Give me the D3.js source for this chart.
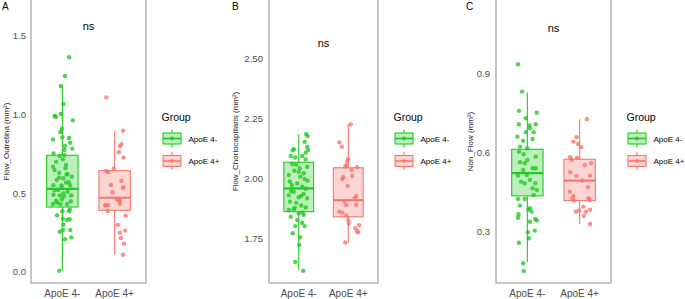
<!DOCTYPE html>
<html>
<head>
<meta charset="utf-8">
<script src="https://cdn.jsdelivr.net/npm/d3@7"></script>
<style>
  body { margin: 0; background: #fff; }
  svg { display: block; font-family: "Liberation Sans", Arial, sans-serif; }
</style>
</head>
<body>
<div id="chart"></div>
<script>
// categories + labels
const groups = ["ApoE 4-", "ApoE 4+"];
const panelLetters = ["A", "B", "C"];
const yTitles = ["Flow_Outretina (mm²)", "Flow_Choriocapillaris (mm²)", "Non_Flow (mm²)"];
const nsLabel = "ns";
const nsValues = [1.54, 2.55, 1.06];

// y ticks per panel
const ticksA = [0.0, 0.5, 1.0, 1.5];
const tickLabelsA = ["0.0", "0.5", "1.0", "1.5"];
const ticksB = [1.75, 2.00, 2.25, 2.50];
const tickLabelsB = ["1.75", "2.00", "2.25", "2.50"];
const ticksC = [0.3, 0.6, 0.9];
const tickLabelsC = ["0.3", "0.6", "0.9"];

// box stats: [lower whisker, q1, median, q3, upper whisker], one per group
const boxA = [[0.008, 0.413, 0.528, 0.742, 1.182], [0.112, 0.392, 0.472, 0.644, 0.898]];
const boxB = [[1.622, 1.864, 1.961, 2.070, 2.187], [1.736, 1.843, 1.912, 2.047, 2.228]];
const boxC = [[0.185, 0.437, 0.523, 0.614, 0.830], [0.330, 0.419, 0.495, 0.576, 0.728]];

// jittered points: [jitter (category units), value]
const ptsANeg = [[0.13,1.365],[0.05,1.246],[-0.03,1.182],[0.02,1.068],[-0.15,0.992],[-0.12,0.987],[-0.03,1.004],[0.2,0.964],
  [-0.04,0.890],[-0.01,0.911],[0,0.856],[-0.18,0.843],[0.13,0.852],[0.15,0.822],[0.05,0.801],[0.04,0.776],[0.19,0.784],
  [-0.17,0.754],[-0.05,0.737],[0.04,0.742],[0.01,0.716],[-0.18,0.670],[-0.15,0.648],[0.07,0.680],[-0.06,0.631],[0.1,0.623],
  [0.18,0.606],[0.02,0.596],[-0.11,0.585],[0.07,0.568],[-0.17,0.551],[-0.01,0.542],[0.15,0.551],[-0.08,0.521],[0.02,0.500],
  [0.1,0.511],[-0.17,0.491],[-0.05,0.487],[0.17,0.487],[-0.12,0.453],[-0.01,0.462],[0.09,0.432],[-0.18,0.432],[-0.04,0.432],
  [0.14,0.398],[0,0.386],[-0.1,0.360],[0.13,0.386],[0.01,0.339],[0.09,0.331],[0.14,0.335],[0.02,0.301],[-0.05,0.256],
  [0.01,0.267],[0.15,0.267],[0.17,0.220],[0.05,0.208],[-0.06,0.008],
  [-0.12,0.70],[0.06,0.66],[-0.06,0.60],[0.12,0.57],[-0.15,0.52],[0.03,0.48],[0.16,0.45],[-0.1,0.44],[0.08,0.62],[-0.02,0.55]];
const ptsAPos = [[-0.16,1.110],[0.16,0.898],[0.13,0.812],[0.1,0.801],[0.08,0.761],[0.17,0.727],[-0.16,0.642],[-0.13,0.634],
  [-0.02,0.657],[0.13,0.579],[-0.07,0.553],[0.16,0.536],[0.17,0.538],[-0.04,0.507],[0.04,0.464],[0.08,0.453],[0.1,0.458],
  [0.1,0.434],[-0.17,0.426],[-0.12,0.426],[-0.18,0.422],[-0.13,0.388],[0.21,0.358],[0.06,0.299],[0.2,0.263],[0.1,0.250],
  [0.12,0.216],[0.18,0.180],[0.16,0.110]];

const ptsBNeg = [[0.15,2.188],[0.18,2.179],[0.12,2.155],[-0.1,2.124],[0.17,2.135],[0.19,2.121],[0.14,2.110],[-0.16,2.096],
  [-0.07,2.090],[0.07,2.096],[0.14,2.082],[-0.13,2.063],[0.02,2.045],[0.17,2.051],[-0.09,2.035],[0.1,2.024],[-0.2,2.017],
  [0.03,2.010],[0.18,1.993],[-0.03,1.982],[-0.14,1.975],[0.07,1.968],[-0.1,1.947],[0.1,1.938],[-0.2,1.933],[0,1.924],
  [0.17,1.920],[-0.18,1.906],[-0.05,1.901],[0.05,1.890],[0.14,1.882],[-0.1,1.874],[-0.2,1.871],[0,1.857],[0.1,1.851],
  [-0.16,1.843],[-0.03,1.829],[0.07,1.818],[-0.07,1.804],[0.12,1.804],[-0.12,1.774],[0.03,1.757],[0.01,1.725],
  [-0.07,1.655],[0.09,1.618],
  [-0.05,2.06],[0.12,2.0],[-0.15,1.95],[0.05,1.93],[-0.08,1.88],[0.14,1.96],[0,2.03],[-0.12,2.12],[0.08,1.86],[-0.18,1.99]];
const ptsBPos = [[0.05,2.228],[-0.18,2.153],[-0.13,2.135],[0,2.083],[-0.02,2.072],[-0.04,2.058],[-0.06,2.051],[0.18,2.049],
  [0.07,2.038],[-0.1,2.008],[0.08,2.013],[-0.12,2.000],[-0.01,1.971],[0.16,1.929],[0.13,1.920],[-0.08,1.908],[-0.04,1.892],
  [0.16,1.892],[-0.18,1.864],[-0.12,1.860],[-0.04,1.847],[0,1.829],[0.01,1.815],[0.22,1.808],[0.14,1.795],[0.18,1.783],
  [0.2,1.778],[-0.06,1.736]];

const ptsCNeg = [[-0.18,0.937],[-0.1,0.833],[-0.16,0.760],[0.18,0.753],[-0.03,0.732],[-0.16,0.709],[0.04,0.704],[0.16,0.709],
  [0.05,0.694],[-0.03,0.679],[-0.19,0.662],[0.12,0.679],[-0.08,0.646],[0.1,0.653],[-0.14,0.624],[0,0.618],[-0.16,0.605],
  [-0.07,0.595],[0.16,0.586],[0,0.573],[-0.14,0.565],[-0.05,0.561],[0.16,0.542],[-0.08,0.535],[0.1,0.542],[-0.18,0.514],
  [-0.01,0.516],[0.05,0.497],[-0.12,0.491],[-0.05,0.485],[0.15,0.485],[0.1,0.466],[0.18,0.459],[0.12,0.440],[-0.18,0.425],
  [-0.05,0.425],[0.05,0.390],[-0.14,0.400],[0.02,0.384],[0.08,0.377],[-0.17,0.367],[-0.18,0.354],[0.05,0.339],[0.15,0.349],
  [0.18,0.344],[0.01,0.299],[0.14,0.305],[0.03,0.276],[-0.16,0.259],[-0.08,0.181],[-0.07,0.152]];
const ptsCPos = [[0.14,0.728],[-0.06,0.660],[-0.12,0.643],[-0.03,0.634],[0.03,0.622],[-0.18,0.584],[-0.15,0.573],[-0.05,0.582],
  [0.22,0.561],[0.1,0.554],[-0.18,0.527],[-0.06,0.513],[0.2,0.514],[0.05,0.495],[0.16,0.470],[-0.19,0.453],[-0.12,0.437],
  [-0.14,0.428],[0.17,0.428],[-0.11,0.419],[0.19,0.421],[0.07,0.396],[-0.07,0.377],[-0.01,0.381],[0.2,0.384],[0.12,0.377],
  [0.08,0.361],[0.2,0.330]];

const colors = ["#22c922", "#f8766d"];

const W = 685, H = 299, plotBottom = 283;

const panels = [
  {letter: panelLetters[0], title: yTitles[0], ticks: ticksA, tickLabels: tickLabelsA, domain: [-0.07, 1.729],
   boxes: boxA, points: [ptsANeg, ptsAPos], ns: nsValues[0], left: 31, right: 146, letterX: 2, titleX: 9, tickX: 26},
  {letter: panelLetters[1], title: yTitles[1], ticks: ticksB, tickLabels: tickLabelsB, domain: [1.567, 2.746],
   boxes: boxB, points: [ptsBNeg, ptsBPos], ns: nsValues[1], left: 269, right: 378, letterX: 232, titleX: 238, tickX: 263},
  {letter: panelLetters[2], title: yTitles[2], ticks: ticksC, tickLabels: tickLabelsC, domain: [0.106, 1.181],
   boxes: boxC, points: [ptsCNeg, ptsCPos], ns: nsValues[2], left: 496, right: 611, letterX: 466, titleX: 473, tickX: 490}
];

const svg = d3.select("#chart").append("svg")
  .attr("width", W)
  .attr("height", H);

panels.forEach(p => {
  const g = svg.append("g");

  const y = d3.scaleLinear().domain(p.domain).range([plotBottom, 0]);
  const x = d3.scalePoint().domain(groups).range([p.left, p.right]).padding(0.6);
  const bw = x.step() * 0.6;

  // panel letter
  g.append("text")
    .attr("x", p.letterX).attr("y", 10)
    .attr("font-size", 10).attr("fill", "#000")
    .text(p.letter);

  // y title
  g.append("text")
    .attr("transform", `translate(${p.titleX},${plotBottom / 2}) rotate(-90)`)
    .attr("text-anchor", "middle")
    .attr("font-size", 8).attr("fill", "#1a1a1a")
    .text(p.title);

  // y tick labels
  g.selectAll(".ytick")
    .data(p.ticks)
    .join("text")
      .attr("x", p.tickX)
      .attr("y", d => y(d))
      .attr("dy", "0.35em")
      .attr("text-anchor", "end")
      .attr("font-size", 9.6).attr("fill", "#4d4d4d")
      .text((d, i) => p.tickLabels[i]);

  // x labels
  g.selectAll(".xlab")
    .data(groups)
    .join("text")
      .attr("x", d => x(d))
      .attr("y", 297)
      .attr("text-anchor", "middle")
      .attr("font-size", 10).attr("fill", "#4d4d4d")
      .text(d => d);

  // boxes
  groups.forEach((grp, i) => {
    const s = p.boxes[i], cx = x(grp), c = colors[i];
    g.append("line")
      .attr("x1", cx).attr("x2", cx).attr("y1", y(s[4])).attr("y2", y(s[3]))
      .attr("stroke", c).attr("stroke-width", 1.1);
    g.append("line")
      .attr("x1", cx).attr("x2", cx).attr("y1", y(s[1])).attr("y2", y(s[0]))
      .attr("stroke", c).attr("stroke-width", 1.1);
    g.append("rect")
      .attr("x", cx - bw / 2).attr("width", bw)
      .attr("y", y(s[3])).attr("height", y(s[1]) - y(s[3]))
      .attr("fill", c).attr("fill-opacity", 0.3)
      .attr("stroke", c).attr("stroke-width", 1.1);
    g.append("line")
      .attr("x1", cx - bw / 2).attr("x2", cx + bw / 2)
      .attr("y1", y(s[2])).attr("y2", y(s[2]))
      .attr("stroke", c).attr("stroke-width", 2.2);
  });

  // jittered points
  groups.forEach((grp, i) => {
    g.append("g")
      .selectAll("circle")
      .data(p.points[i])
      .join("circle")
        .attr("cx", d => x(grp) + d[0] * x.step())
        .attr("cy", d => y(d[1]))
        .attr("r", 2.2)
        .attr("fill", colors[i])
        .attr("fill-opacity", 0.8);
  });

  // panel frame
  g.append("rect")
    .attr("x", p.left).attr("y", -2)
    .attr("width", p.right - p.left).attr("height", plotBottom + 2)
    .attr("fill", "none")
    .attr("stroke", "#8c8c8c").attr("stroke-width", 1);

  // ns annotation
  g.append("text")
    .attr("x", (x(groups[0]) + x(groups[1])) / 2)
    .attr("y", y(p.ns))
    .attr("text-anchor", "middle")
    .attr("font-size", 11).attr("fill", "#000")
    .text(nsLabel);

  // legend
  const lx = p.right + 15.5;
  g.append("text")
    .attr("x", lx).attr("y", 121)
    .attr("font-size", 10.5).attr("fill", "#000")
    .text("Group");

  groups.forEach((grp, i) => {
    const cy = 138.5 + i * 22.5, c = colors[i], kx = lx + 10.5;
    g.append("line")
      .attr("x1", kx).attr("x2", kx).attr("y1", cy - 9).attr("y2", cy + 9)
      .attr("stroke", c).attr("stroke-width", 1.1);
    g.append("rect")
      .attr("x", lx + 1.5).attr("y", cy - 5.5)
      .attr("width", 18).attr("height", 11)
      .attr("fill", "#fff");
    g.append("rect")
      .attr("x", lx + 1.5).attr("y", cy - 5.5)
      .attr("width", 18).attr("height", 11)
      .attr("fill", c).attr("fill-opacity", 0.3)
      .attr("stroke", c).attr("stroke-width", 1.1);
    g.append("line")
      .attr("x1", lx + 1.5).attr("x2", lx + 19.5).attr("y1", cy).attr("y2", cy)
      .attr("stroke", c).attr("stroke-width", 1.6);
    g.append("circle")
      .attr("cx", kx).attr("cy", cy).attr("r", 2)
      .attr("fill", c).attr("fill-opacity", 0.8);
    g.append("text")
      .attr("x", lx + 27).attr("y", cy + 3)
      .attr("font-size", 8).attr("fill", "#000")
      .text(grp);
  });
});
</script>
</body>
</html>
